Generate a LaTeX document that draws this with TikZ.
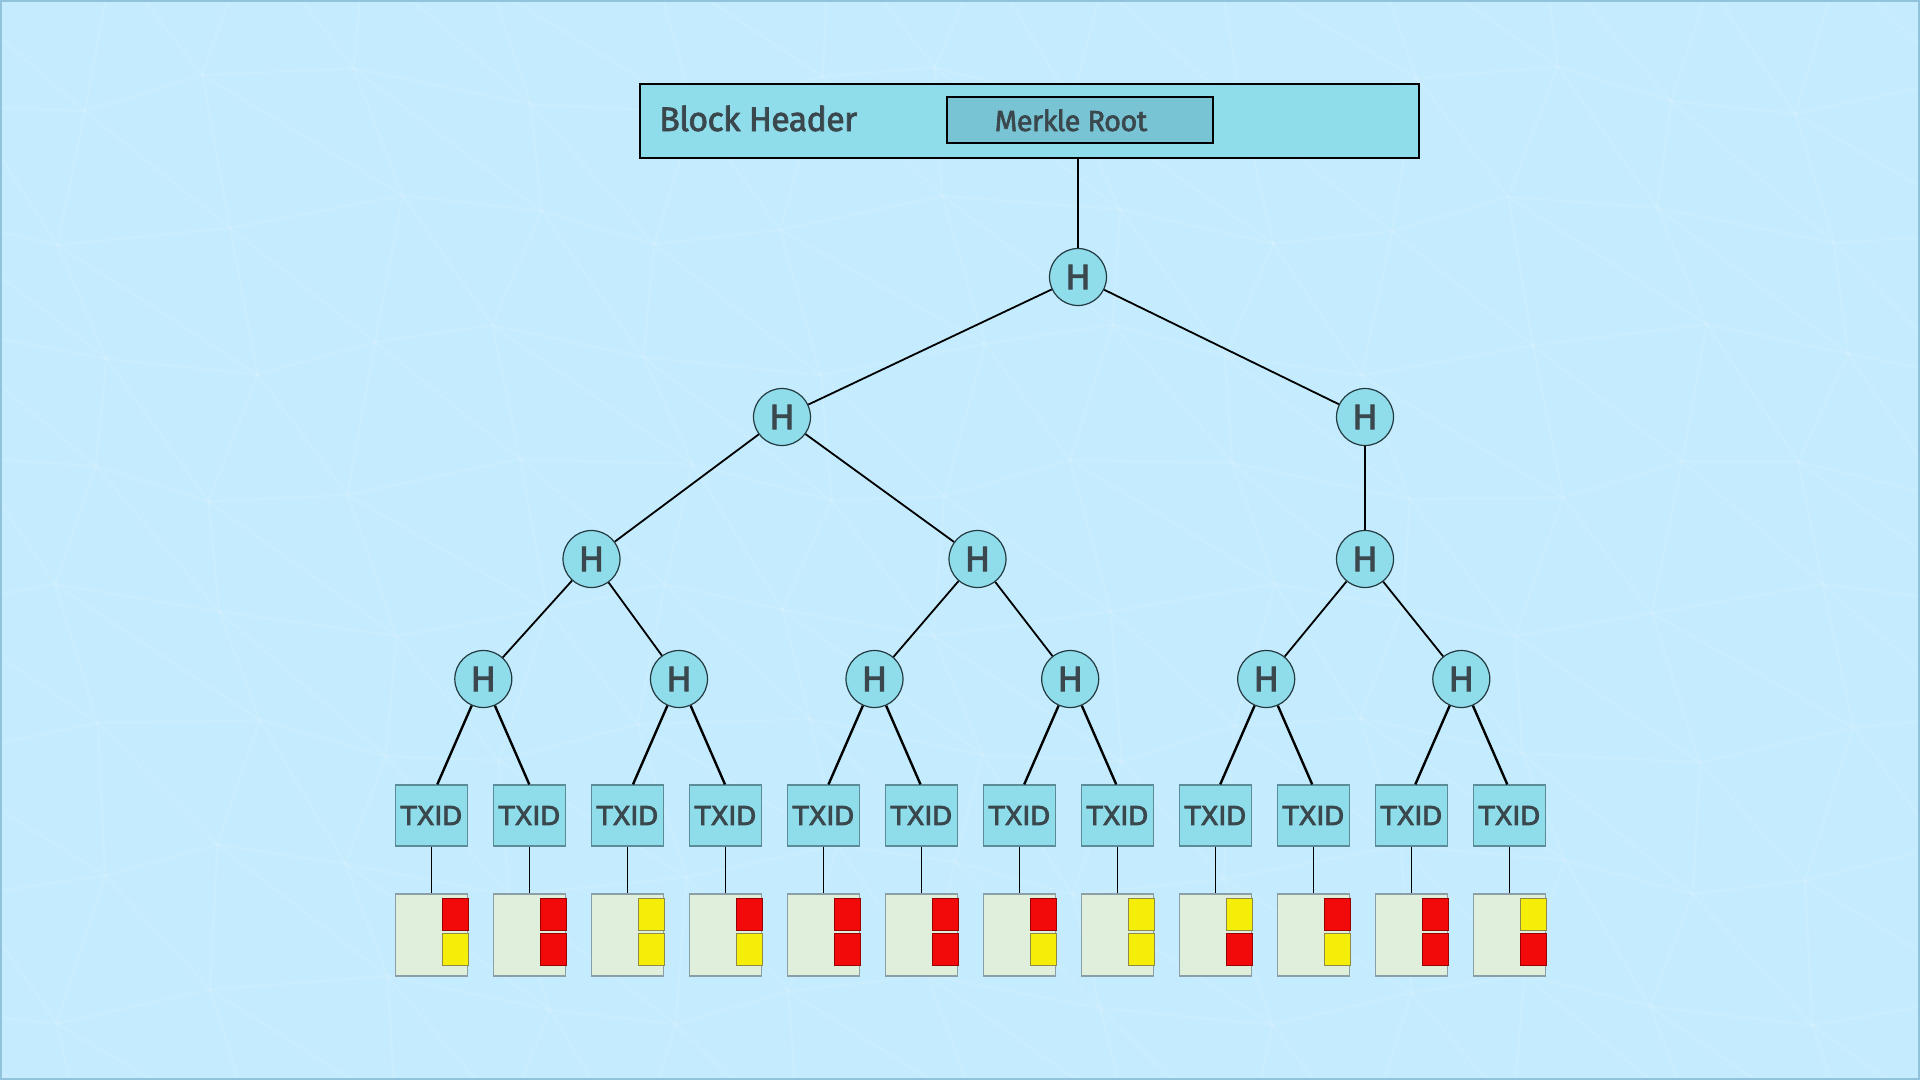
\documentclass[tikz,border=0pt]{standalone}
\usepackage{fontspec}
\setmainfont{DejaVu Sans}
\newfontfamily\hdrfont{Fira Sans}[FakeBold=2,LetterSpace=-2]
\newfontfamily\lblfont{DejaVu Sans}[FakeBold=3]
\usetikzlibrary{calc}
\definecolor{bg}{HTML}{C4ECFE}
\definecolor{framecol}{HTML}{92C3DC}
\definecolor{nodefill}{HTML}{8FDCEA}
\definecolor{mrfill}{HTML}{78C4D4}
\definecolor{txt}{HTML}{3A474C}
\definecolor{circborder}{HTML}{23393F}
\definecolor{txidborder}{HTML}{5C8C98}
\definecolor{txfill}{HTML}{E0EEDC}
\definecolor{txborder}{HTML}{8AA0A6}
\definecolor{redsq}{HTML}{F20A0A}
\definecolor{yelsq}{HTML}{F5EE08}
\tikzset{
  hnode/.style={circle, draw=circborder, line width=1.2pt, fill=nodefill, minimum size=57pt, inner sep=0pt,
    text=txt, font=\lblfont\fontsize{33}{36}\selectfont},
  txidbox/.style={rectangle, draw=txidborder, line width=1.2pt, fill=nodefill, minimum width=72pt, minimum height=61pt,
    inner sep=0pt, text=txt, font=\lblfont\fontsize{26}{30}\selectfont},
  txbox/.style={rectangle, draw=txborder, line width=1.2pt, fill=txfill, minimum width=72pt, minimum height=82pt, inner sep=0pt},
  rsq/.style={fill=redsq, draw=red!60!black, line width=0.8pt},
  ysq/.style={fill=yelsq, draw=yellow!50!black, line width=0.8pt},
  edge/.style={draw=black, line width=1.8pt},
  lowedge/.style={draw=black, line width=2.4pt},
  thinedge/.style={draw=black, line width=1.4pt},
  meshline/.style={draw=white, line width=2.5pt, opacity=0.1},
}
\begin{document}
\begin{tikzpicture}[x=1pt,y=-1pt]
\useasboundingbox (0,0) rectangle (1920,1080);
\fill[bg] (0,0) rectangle (1920,1080);
% faint background mesh
\begin{scope}
\clip (0,0) rectangle (1920,1080);
\foreach \i in {0,...,14} {
  \foreach \j in {0,...,9} {
    \pgfmathsetmacro\px{\i*145-60+30*sin(\i*67+\j*113)}
    \pgfmathsetmacro\py{\j*130-40+26*cos(\i*89-\j*53)}
    \coordinate (p-\i-\j) at (\px,\py);
  }
}
\foreach \i in {0,...,13} {
  \foreach \j in {0,...,8} {
    \pgfmathtruncatemacro\ii{\i+1}
    \pgfmathtruncatemacro\jj{\j+1}
    \draw[meshline] (p-\i-\j) -- (p-\ii-\j);
    \draw[meshline] (p-\i-\j) -- (p-\i-\jj);
    \draw[meshline] (p-\i-\j) -- (p-\ii-\jj);
  }
}
\end{scope}
\draw[framecol, line width=2pt] (1,1) rectangle (1919,1079);

% header
\node[rectangle, draw=black, line width=2.2pt, fill=nodefill, minimum width=779pt, minimum height=74pt, anchor=north west, inner sep=0pt] (header) at (639,83) {};
\node[rectangle, draw=black, line width=2.2pt, fill=mrfill, minimum width=266pt, minimum height=46pt, inner sep=0pt] (mr) at (1080,120) {};
\node[anchor=base west, inner sep=0pt, text=txt, font=\hdrfont\fontsize{34}{38}\selectfont] (bh) at (659,131) {Block Header};
\node[anchor=base, inner sep=0pt, text=txt, font=\hdrfont\fontsize{29}{33}\selectfont] (mrt) at (1071,131) {Merkle Root};

% hash tree
\node[hnode] (r) at (1078,277) {H};
\node[hnode] (a) at (782,417) {H};
\node[hnode] (b) at (1365,417) {H};
\node[hnode] (c) at (591.5,559) {H};
\node[hnode] (d) at (977.5,559) {H};
\node[hnode] (e) at (1365,559) {H};
\node[hnode] (h1) at (483.3,679) {H};
\node[hnode] (h2) at (679,679) {H};
\node[hnode] (h3) at (874.5,679) {H};
\node[hnode] (h4) at (1070.2,679) {H};
\node[hnode] (h5) at (1266.2,679) {H};
\node[hnode] (h6) at (1461.3,679) {H};

\draw[edge] (r |- header.south) -- (r);
\draw[edge] (r) -- (a);
\draw[edge] (r) -- (b);
\draw[edge] (a) -- (c);
\draw[edge] (a) -- (d);
\draw[edge] (b) -- (e);
\draw[edge] (c) -- (h1);
\draw[edge] (c) -- (h2);
\draw[edge] (d) -- (h3);
\draw[edge] (d) -- (h4);
\draw[edge] (e) -- (h5);
\draw[edge] (e) -- (h6);

% TXIDs and transactions
\foreach \k/\tp/\bt in {1/r/y, 2/r/r, 3/y/y, 4/r/y, 5/r/r, 6/r/r, 7/r/y, 8/y/y, 9/y/r, 10/r/y, 11/r/r, 12/y/r} {
  \pgfmathsetmacro\tx{431.5+98*(\k-1)}
  \node[txidbox] (t\k) at (\tx,815.5) {TXID};
  \node[txbox] (x\k) at (\tx,935) {};
  \draw[thinedge] (t\k.south) -- (x\k.north);
  \draw[\tp sq] ($(x\k.north east)+(-26,5)$) rectangle ++(26,32);
  \draw[\bt sq] ($(x\k.north east)+(-26,40)$) rectangle ++(26,32);
}
\foreach \h/\l/\rr in {1/1/2, 2/3/4, 3/5/6, 4/7/8, 5/9/10, 6/11/12} {
  \draw[lowedge] (h\h) -- ($(h\h.center |- t\l.north)+(-46,0)$);
  \draw[lowedge] (h\h) -- ($(h\h.center |- t\rr.north)+(46,0)$);
}
\end{tikzpicture}
\end{document}
